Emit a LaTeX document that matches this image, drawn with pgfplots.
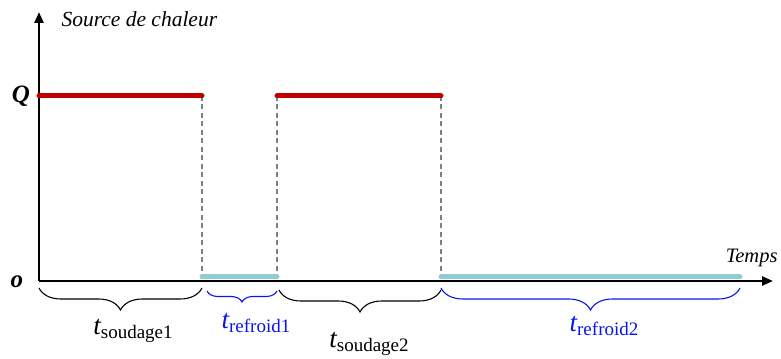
\documentclass[border=0pt]{standalone}
\usepackage{pgfplots}
\pgfplotsset{compat=1.18}
\usepackage{fontspec}
\setmainfont{Liberation Serif}
\usetikzlibrary{arrows.meta,decorations.pathreplacing}
\definecolor{redline}{HTML}{C00000}
\definecolor{cyanline}{HTML}{92CAD6}
\definecolor{bluetxt}{HTML}{0A14F0}
\newcommand{\tlab}[1]{{\fontsize{27}{28}\selectfont\itshape t}\raisebox{-4pt}{\fontsize{19}{20}\selectfont #1}}
\begin{document}
\begin{tikzpicture}
\begin{axis}[
  x=1pt, y=1pt,
  xmin=0, xmax=734, ymin=0, ymax=269,
  axis lines=left,
  axis line style={line width=2.4pt, -{Triangle[length=11pt,width=9pt]}},
  xtick=\empty, ytick=\empty,
  clip=false,
]
\path (axis cs:-39,-77) rectangle (axis cs:742,281);
% dashed guides
\addplot[gray, line width=1.1pt, dash pattern=on 5pt off 3.5pt] coordinates {(163,185) (163,0)};
\addplot[gray, line width=1.1pt, dash pattern=on 5pt off 3.5pt] coordinates {(238,185) (238,0)};
\addplot[gray, line width=1.1pt, dash pattern=on 5pt off 3.5pt] coordinates {(402,185) (402,0)};
% heat source on
\addplot[redline, line width=5pt, line cap=round] coordinates {(0,185) (163,185)};
\addplot[redline, line width=5pt, line cap=round] coordinates {(238,185) (402,185)};
% cooling
\addplot[cyanline, line width=5pt, line cap=round] coordinates {(163,4) (238,4)};
\addplot[cyanline, line width=5pt, line cap=round] coordinates {(402,4) (701,4)};
% labels
\node[anchor=west, font=\fontsize{21.5}{22}\selectfont\itshape] at (axis cs:19,262) {Source de chaleur};
\node[font=\fontsize{25}{25}\selectfont\bfseries\itshape] at (axis cs:-18,185) {Q};
\node[font=\fontsize{25}{25}\selectfont\bfseries\itshape] at (axis cs:-22,-1) {o};
\node[anchor=east, font=\fontsize{20.5}{21}\selectfont\itshape] at (axis cs:742,23) {Temps};
% braces
\draw[black, line width=1.1pt, decorate, decoration={brace, mirror, amplitude=22pt}] (axis cs:0,-7) -- (axis cs:163,-7);
\draw[bluetxt, line width=1.1pt, decorate, decoration={brace, mirror, amplitude=11pt}] (axis cs:168,-10) -- (axis cs:238,-10);
\draw[black, line width=1.1pt, decorate, decoration={brace, mirror, amplitude=22pt}] (axis cs:240,-9) -- (axis cs:402,-9);
\draw[bluetxt, line width=1.1pt, decorate, decoration={brace, mirror, amplitude=22pt}] (axis cs:402,-7) -- (axis cs:701,-7);
\node at (axis cs:94,-50) {\tlab{soudage1}};
\node[text=bluetxt] at (axis cs:217,-42) {\tlab{refroid1}};
\node at (axis cs:330,-63) {\tlab{soudage2}};
\node[text=bluetxt] at (axis cs:565,-45) {\tlab{refroid2}};
\end{axis}
\end{tikzpicture}
\end{document}
